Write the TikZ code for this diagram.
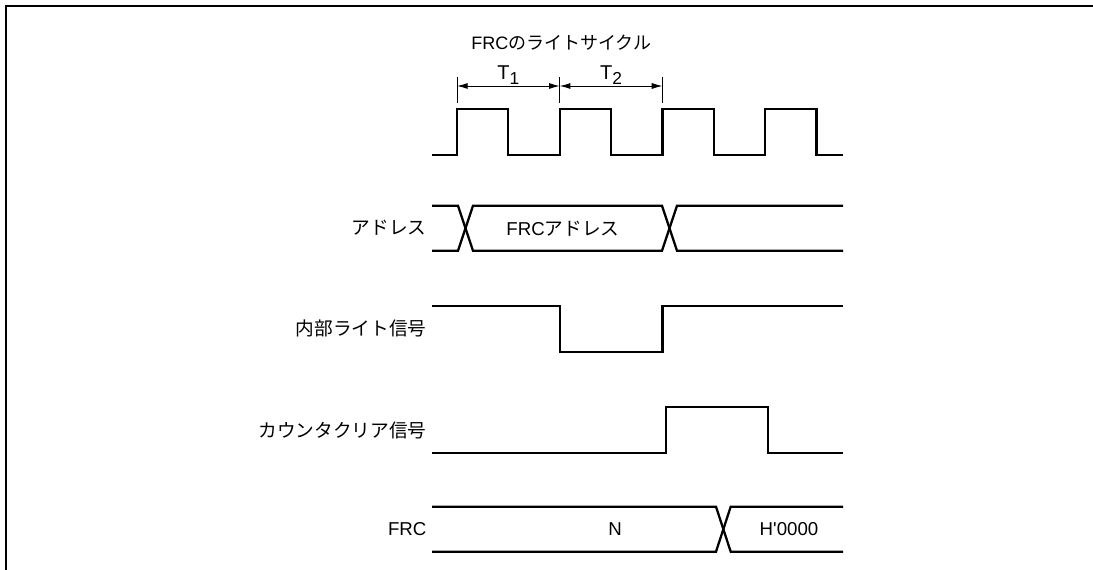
\documentclass[tikz,border=0pt]{standalone}
\usepackage{fontspec}
\setmainfont{Liberation Sans}[Ligatures=TeXOff]
\newfontfamily\jp{Noto Sans CJK JP}
\usetikzlibrary{arrows.meta, positioning}

\begin{document}
\begin{tikzpicture}[x=0.75pt, y=-0.75pt,
    signal line/.style={line width=1.7pt, line join=miter},
    dim line/.style={line width=0.7pt},
    dim arrow/.style={line width=0.7pt, {Latex[length=8pt,width=4.5pt]}-{Latex[length=8pt,width=4.5pt]}},
    sig label/.style={anchor=east, inner sep=0pt, font=\fontsize{14}{16}\selectfont},
    bus text/.style={inner sep=0pt, font=\fontsize{14}{16}\selectfont},
    period label/.style={anchor=base, inner sep=0pt, yshift=5pt, font=\fontsize{15}{17}\selectfont}
]
    \useasboundingbox (0,0) rectangle (1093,570);

    % Marco
    \draw[line width=1.5pt] (6,570) -- (6,6) -- (1093,6);

    % Titulo
    \node[anchor=west, inner sep=0pt, font=\fontsize{13.5}{16}\selectfont] (title) at (471,43) {FRC{\jp のライトサイクル}};

    % Periodos T1, T2
    \coordinate (tick0) at (457,77);   \coordinate (foot0) at (457,103);
    \coordinate (tick1) at (559.7,77); \coordinate (foot1) at (559.7,103);
    \coordinate (tick2) at (662.4,77); \coordinate (foot2) at (662.4,103);
    \draw[dim line] (tick0) -- (foot0);
    \draw[dim line] (tick1) -- (foot1);
    \draw[dim line] (tick2) -- (foot2);
    \coordinate (arr0) at (457,86);
    \coordinate (arr1) at (559.7,86);
    \coordinate (arr2) at (662.4,86);
    \draw[dim arrow] (arr0) -- node[period label] (t1) {T\raisebox{-4pt}{\fontsize{13}{14}\selectfont 1}} (arr1);
    \draw[dim arrow] (arr1) -- node[period label] (t2) {T\raisebox{-4pt}{\fontsize{13}{14}\selectfont 2}} (arr2);

    % Reloj
    \draw[signal line] (432,155) -- (457,155) -- (457,109) -- (508.35,109) -- (508.35,155)
        -- (559.7,155) -- (559.7,109) -- (611.05,109) -- (611.05,155)
        -- (662.4,155) -- (662.4,109) -- (713.75,109) -- (713.75,155)
        -- (765.1,155) -- (765.1,109) -- (816.45,109) -- (816.45,155) -- (843,155);

    % Direccion
    \coordinate (addr start) at (432,228.2);
    \node[sig label, left=4pt of addr start] (addr) {{\jp アドレス}};
    \draw[signal line] (432,205.7) -- (458,205.7) -- (473,250.7) -- (662,250.7) -- (677,205.7) -- (843,205.7);
    \draw[signal line] (432,250.7) -- (458,250.7) -- (473,205.7) -- (662,205.7) -- (677,250.7) -- (843,250.7);
    \node[bus text] (addr val) at (563,228.5) {FRC{\jp アドレス}};

    % Senal de escritura interna
    \coordinate (wr start) at (432,328.9);
    \node[sig label, left=4pt of wr start] (wr) {{\jp 内部ライト信号}};
    \draw[signal line] (432,306) -- (559.7,306) -- (559.7,351.7) -- (662.4,351.7) -- (662.4,306) -- (843,306);

    % Senal de borrado del contador
    \coordinate (clr start) at (432,430);
    \node[sig label, left=4pt of clr start] (clr) {{\jp カウンタクリア信号}};
    \draw[signal line] (432,453) -- (665.7,453) -- (665.7,407) -- (768,407) -- (768,453) -- (843,453);

    % FRC
    \coordinate (frc start) at (432,529.2);
    \node[sig label, left=4pt of frc start] (frc) {FRC};
    \draw[signal line] (432,506.7) -- (716,506.7) -- (730.7,551.7) -- (843,551.7);
    \draw[signal line] (432,551.7) -- (716,551.7) -- (730.7,506.7) -- (843,506.7);
    \node[bus text] (frc n) at (615,529.2) {N};
    \node[bus text] (frc zero) at (789,529.2) {H'0000};
\end{tikzpicture}
\end{document}
